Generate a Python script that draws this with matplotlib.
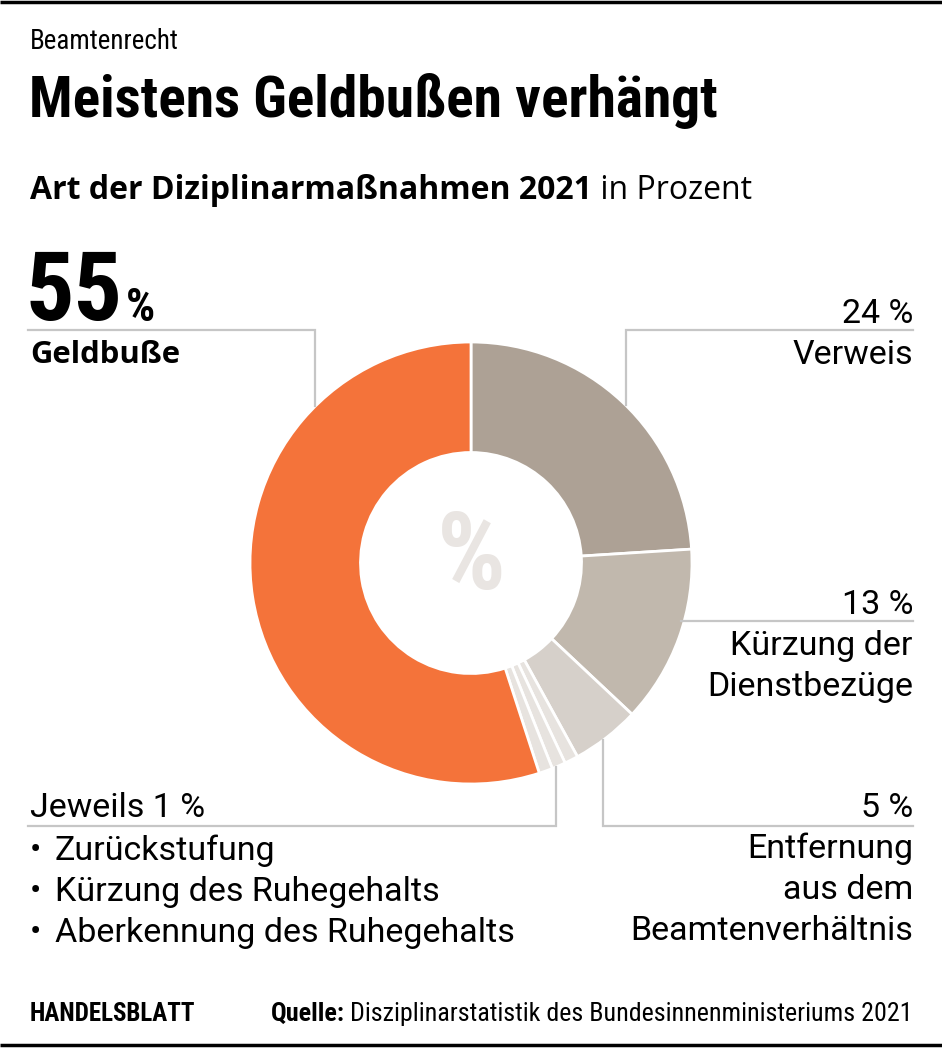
# Beamtenrecht donut: Art der Disziplinarmassnahmen 2021
import numpy as np
import matplotlib
matplotlib.use('Agg')
import matplotlib.pyplot as plt
from matplotlib import font_manager as fm

labels = ["Verweis", "Kürzung der Dienstbezüge",
          "Entfernung aus dem Beamtenverhältnis",
          "Zurückstufung", "Kürzung des Ruhegehalts",
          "Aberkennung des Ruhegehalts", "Geldbuße"]
values = [24, 13, 5, 1, 1, 1, 55]
colors = ["#ada195", "#c1b8ad", "#d6d0ca", "#e7e3df", "#e7e3df", "#e7e3df", "#f4733a"]

small_items = ["Zurückstufung", "Kürzung des Ruhegehalts", "Aberkennung des Ruhegehalts"]
right_labels = [("24 %", ["Verweis"]),
                ("13 %", ["Kürzung der", "Dienstbezüge"]),
                ("5 %", ["Entfernung", "aus dem", "Beamtenverhältnis"])]

names = {f.name for f in fm.fontManager.ttflist}


def pick(*cands):
    for c in cands:
        if c in names:
            return c
    return 'DejaVu Sans'


COND = pick('Roboto Condensed', 'Liberation Sans Narrow', 'DejaVu Sans Condensed', 'DejaVu Sans')
BODY = pick('Roboto', 'Liberation Sans', 'DejaVu Sans')
WIDE = pick('Open Sans', 'Liberation Sans', 'DejaVu Sans')

W, H = 942, 1048
PT = 0.72  # px -> pt at dpi 100
GREY = "#c6c6c6"
CX, CY, R = 471, 563, 221

fig = plt.figure(figsize=(W / 100, H / 100), dpi=100)
ax = fig.add_axes([0, 0, 1, 1])
renderer = fig.canvas.get_renderer()


def px(t):
    return t.get_window_extent(renderer)


def right_of(t):
    return ax.transData.inverted().transform((px(t).x1, 0))[0]


def fit(t, width):
    # shrink text if the font runs wider than the original
    w = px(t).width
    if w > width:
        t.set_fontsize(t.get_fontsize() * width / w)


# donut, clockwise from the top (y axis is flipped below)
wedges, _ = ax.pie(values, colors=colors, startangle=-90, counterclock=True,
                   radius=R, center=(CX, CY),
                   wedgeprops=dict(width=R * 0.5, edgecolor='white', linewidth=2))
ax.set_xlim(0, W)
ax.set_ylim(H, 0)
ax.set_aspect('equal')
ax.axis('off')

# frame lines top and bottom
ax.plot([0, W], [1.5, 1.5], color='black', lw=2.5, solid_capstyle='butt')
ax.plot([0, W], [1045, 1045], color='black', lw=2.5, solid_capstyle='butt')

# headings
t = ax.text(30, 49, "Beamtenrecht", fontsize=27 * PT, family=COND, va='baseline')
fit(t, 170)
t = ax.text(29, 117, "Meistens Geldbußen verhängt", fontsize=64 * PT, family=COND,
            weight='heavy', va='baseline')
fit(t, 690)
t1 = ax.text(30, 199, "Art der Diziplinarmaßnahmen 2021", fontsize=32 * PT, family=WIDE,
             weight='bold', va='baseline')
fit(t1, 562)
ax.text(right_of(t1), 199, " in Prozent", fontsize=t1.get_fontsize(), family=WIDE,
        va='baseline')

# 55 % Geldbusse
t = ax.text(26, 320, "55", fontsize=96 * PT, family=COND, weight='heavy', va='baseline')
ax.text(right_of(t) + 3, 321, "%", fontsize=46 * PT, family=COND, weight='bold', va='baseline')
t = ax.text(30, 363, "Geldbuße", fontsize=31 * PT, family=WIDE, weight='bold', va='baseline')
fit(t, 154)

# centre glyph
ax.text(CX, CY - 3, "%", fontsize=108 * PT, family=COND, weight='bold', color="#e9e5e2",
        ha='center', va='center')


def on_circle(x, below=False):
    dy = np.sqrt(R ** 2 - (x - CX) ** 2)
    return CY + dy if below else CY - dy


# leader lines
lk = dict(color=GREY, lw=1.6, solid_joinstyle='miter')
ax.plot([28, 315, 315], [330, 330, on_circle(315)], **lk)
ax.plot([913, 626, 626], [330, 330, on_circle(626)], **lk)
x13 = CX + np.sqrt(R ** 2 - (621 - CY) ** 2)
ax.plot([x13 - 3, 913], [621, 621], **lk)
ax.plot([913, 603, 603], [826, 826, on_circle(603, True)], **lk)
ax.plot([28, 556, 556], [826, 826, on_circle(556, True)], **lk)

# right labels
fs = 34 * PT
for (pct, lines), y0 in zip(right_labels, [323, 614, 817]):
    ax.text(913, y0, pct, fontsize=fs, family=BODY, ha='right', va='baseline')
    for i, ln in enumerate(lines):
        ax.text(913, y0 + 41 + 41 * i, ln, fontsize=fs, family=BODY, ha='right', va='baseline')

# left bottom labels
ax.text(30, 817, "Jeweils 1 %", fontsize=fs, family=BODY, va='baseline')
for i, item in enumerate(small_items):
    y = 860 + 41 * i
    ax.text(30, y, "•", fontsize=fs, family=BODY, va='baseline')
    ax.text(55, y, item, fontsize=fs, family=BODY, va='baseline')

# footer
t = ax.text(30, 1021, "HANDELSBLATT", fontsize=25 * PT, family=COND, weight='bold',
            va='baseline')
fit(t, 170)
t = ax.text(913, 1021, "Disziplinarstatistik des Bundesinnenministeriums 2021",
            fontsize=26 * PT, family=COND, ha='right', va='baseline')
fit(t, 562)
x0 = ax.transData.inverted().transform((px(t).x0, 0))[0]
ax.text(x0 - 6, 1021, "Quelle:", fontsize=t.get_fontsize(), family=COND, weight='bold',
        ha='right', va='baseline')

fig.savefig("out.png", dpi=100)
